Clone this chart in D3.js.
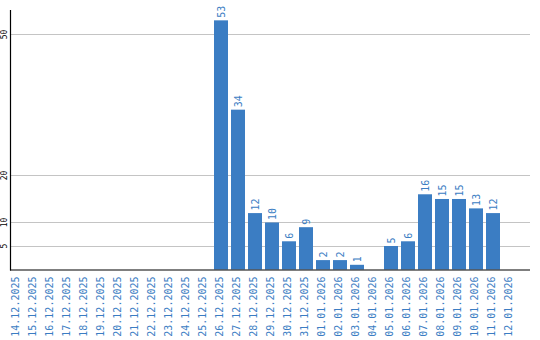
<!DOCTYPE html>
<html>
<head>
<meta charset="utf-8">
<script src="https://cdn.jsdelivr.net/npm/d3@7"></script>
<style>
  body { margin: 0; background: #fff; }
  text { font-family: "DejaVu Sans Mono", "Liberation Mono", monospace; }
</style>
</head>
<body>
<svg id="chart" width="540" height="340"></svg>
<script>
// chart data
var dates = [
  "14.12.2025", "15.12.2025", "16.12.2025", "17.12.2025", "18.12.2025",
  "19.12.2025", "20.12.2025", "21.12.2025", "22.12.2025", "23.12.2025",
  "24.12.2025", "25.12.2025", "26.12.2025", "27.12.2025", "28.12.2025",
  "29.12.2025", "30.12.2025", "31.12.2025", "01.01.2026", "02.01.2026",
  "03.01.2026", "04.01.2026", "05.01.2026", "06.01.2026", "07.01.2026",
  "08.01.2026", "09.01.2026", "10.01.2026", "11.01.2026", "12.01.2026"
];
var counts = [
  0, 0, 0, 0, 0, 0, 0, 0, 0, 0, 0, 0,
  53, 34, 12, 10, 6, 9, 2, 2, 1, 0, 5, 6, 16, 15, 15, 13, 12, 0
];
var yTicks = [5, 10, 20, 50];

(function () {
  var svg = d3.select("#chart");
  var plotLeft = 10, plotRight = 530, plotTop = 10, plotBottom = 269.5;
  var blue = "#3b7dc3";

  var x = d3.scaleBand()
    .domain(dates)
    .range([8.5, 8.5 + dates.length * 17])
    .paddingInner(3 / 17)
    .paddingOuter(1.5 / 17);

  var y = d3.scaleLinear()
    .domain([0, 55.2])
    .range([plotBottom, plotTop]);

  // grid lines
  svg.append("g")
    .selectAll("line")
    .data(yTicks)
    .join("line")
    .attr("x1", plotLeft)
    .attr("x2", plotRight)
    .attr("y1", function (d) { return Math.round(y(d)) + 0.5; })
    .attr("y2", function (d) { return Math.round(y(d)) + 0.5; })
    .attr("stroke", "#c4c4c4")
    .attr("stroke-width", 1);

  // y tick labels, rotated
  svg.append("g")
    .selectAll("text")
    .data(yTicks)
    .join("text")
    .attr("transform", function (d) { return "translate(4," + y(d) + ") rotate(-90)"; })
    .attr("text-anchor", "middle")
    .attr("dy", "0.35em")
    .attr("font-size", 8)
    .attr("fill", "#000")
    .text(function (d) { return d; });

  // bars
  svg.append("g")
    .selectAll("rect")
    .data(counts)
    .join("rect")
    .attr("x", function (d, i) { return x(dates[i]); })
    .attr("y", function (d) { return y(d); })
    .attr("width", x.bandwidth())
    .attr("height", function (d) { return plotBottom - y(d); })
    .attr("fill", blue);

  // value labels above bars (zeros get none)
  var labelled = counts
    .map(function (d, i) { return { v: d, date: dates[i] }; })
    .filter(function (d) { return d.v > 0; });

  svg.append("g")
    .selectAll("text")
    .data(labelled)
    .join("text")
    .attr("transform", function (d) {
      return "translate(" + (x(d.date) + x.bandwidth() / 2) + "," + (y(d.v) - 2.5) + ") rotate(-90)";
    })
    .attr("text-anchor", "start")
    .attr("dy", "0.35em")
    .attr("font-size", 10)
    .attr("fill", blue)
    .text(function (d) { return d.v; });

  // x labels
  svg.append("g")
    .selectAll("text")
    .data(dates)
    .join("text")
    .attr("transform", function (d) {
      return "translate(" + (x(d) + x.bandwidth() / 2 - 2) + "," + (plotBottom + 7) + ") rotate(-90)";
    })
    .attr("text-anchor", "end")
    .attr("dy", "0.35em")
    .attr("font-size", 10)
    .attr("fill", blue)
    .text(function (d) { return d; });

  // axis lines
  svg.append("line")
    .attr("x1", plotLeft + 0.5).attr("x2", plotLeft + 0.5)
    .attr("y1", plotTop).attr("y2", plotBottom + 1)
    .attr("stroke", "#000").attr("stroke-width", 1.2);
  svg.append("line")
    .attr("x1", plotLeft).attr("x2", plotRight)
    .attr("y1", plotBottom + 0.5).attr("y2", plotBottom + 0.5)
    .attr("stroke", "#000").attr("stroke-width", 1.2);
})();
</script>
</body>
</html>
